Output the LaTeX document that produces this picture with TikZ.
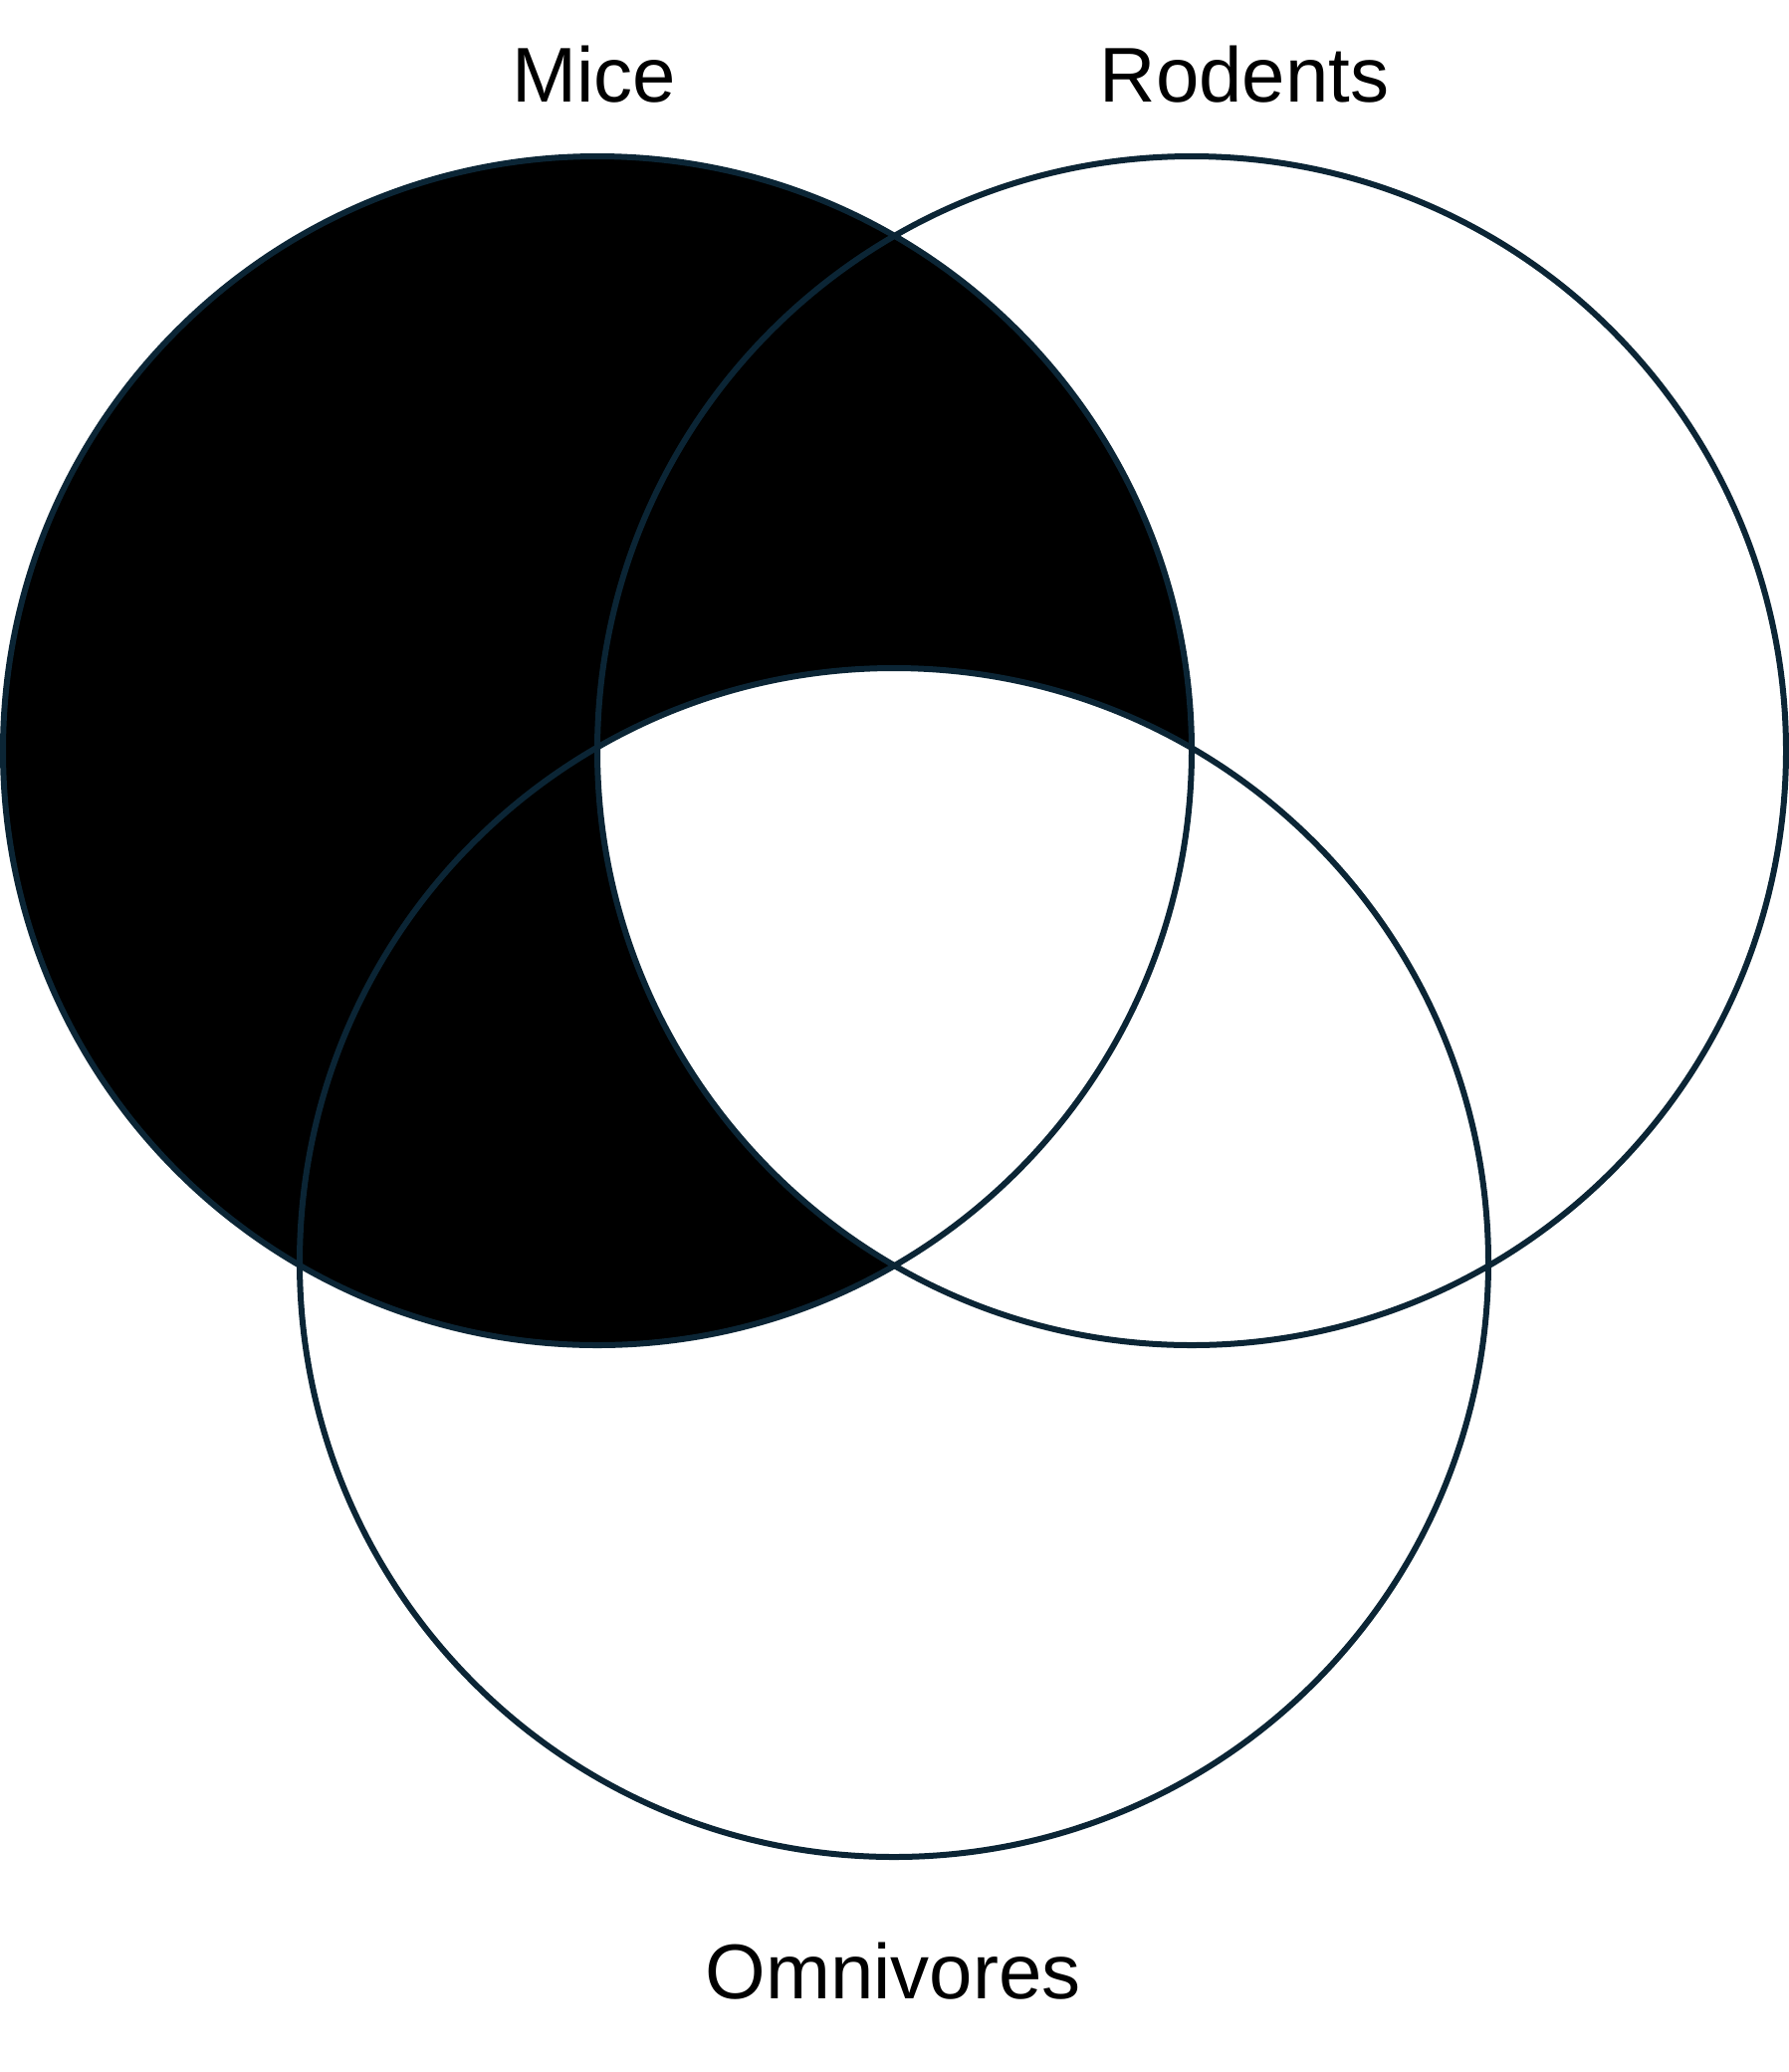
\documentclass[tikz,border=0pt]{standalone}
\usepackage{fontspec}
\setmainfont{Liberation Sans}
\definecolor{venncol}{HTML}{0B2535}
\def\rad{597pt}
\def\vring{circle[radius=\rad]}

\begin{document}
\begin{tikzpicture}[x=1pt,y=-1pt,
    vline/.style={draw=venncol,line width=6pt},
    lbl/.style={font=\fontsize{78}{90}\selectfont,anchor=base,inner sep=0pt}]
  \useasboundingbox (0,0) rectangle (1797,2081);
  \coordinate (mice)    at (600,754);
  \coordinate (rodents) at (1197,754);
  \coordinate (omni)    at (898,1268);
  % shaded part: mice without rodents and omnivores together
  \fill[black] (mice) \vring;
  \begin{scope}
    \clip (rodents) \vring;
    \fill[white] (omni) \vring;
  \end{scope}
  \draw[vline] (mice) \vring;
  \draw[vline] (rodents) \vring;
  \draw[vline] (omni) \vring;
  \node[lbl] (micelbl)    at (597,102)  {Mice};
  \node[lbl] (rodentslbl) at (1250,102) {Rodents};
  \node[lbl] (omnilbl)    at (897,2007) {Omnivores};
\end{tikzpicture}
\end{document}
